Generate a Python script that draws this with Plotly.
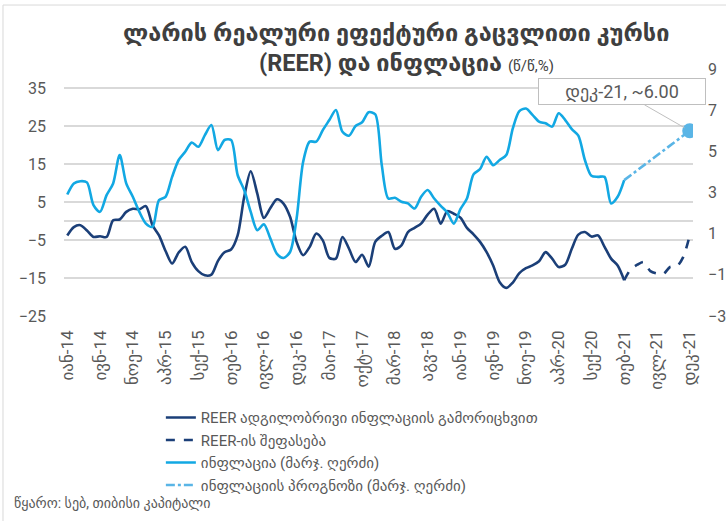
import plotly.graph_objects as go

# ---- categories (monthly, Jan-14 .. Dec-21) ----
month_names = ['იან', 'თებ', 'მარ', 'აპრ', 'მაი', 'ივნ', 'ივლ', 'აგვ', 'სექ', 'ოქტ', 'ნოე', 'დეკ']
years = ['14', '15', '16', '17', '18', '19', '20', '21']
categories = [f"{m}-{y}" for y in years for m in month_names]
tick_labels = categories[::5]

# ---- REER excluding domestic inflation (left axis), Jan-14 .. Feb-21 ----
reer = [-3.8, -1.6, -1.1, -2.5, -4.2, -4.0, -4.2, 0.2, 0.4, 2.4, 3.2, 3.1,
        3.9, -1.1, -3.8, -7.9, -11.2, -8.3, -6.8, -10.8, -13.2, -14.3, -14.1, -10.5,
        -8.2, -7.5, -3.8, 6.3, 13.1, 7.2, 0.8, 3.4, 5.7, 4.6, 1.1, -5.5,
        -9.0, -6.8, -3.3, -5.1, -9.7, -9.9, -4.2, -7.3, -10.8, -8.9, -12.0, -5.5,
        -3.9, -2.9, -7.3, -6.4, -2.9, -1.8, -0.7, 1.7, 3.2, -0.7, 2.6, 1.9,
        0.9, -1.8, -3.5, -5.5, -8.2, -11.7, -16.1, -17.6, -16.2, -13.7, -12.4, -11.7,
        -10.6, -8.2, -9.9, -12.1, -11.5, -7.3, -3.6, -2.9, -4.1, -3.8, -6.8, -9.9,
        -11.7, -15.6]

# ---- REER estimate (left axis), Feb-21 .. Dec-21 ----
reer_est = [-15.6, -12.7, -11.5, -10.8, -13.2, -13.8, -13.9, -12.1, -12.0, -9.5, -3.8]

# ---- Inflation y/y (right axis), Jan-14 .. Feb-21 ----
inflation = [2.90, 3.44, 3.55, 3.49, 2.39, 2.06, 2.87, 3.44, 4.82, 3.44, 2.79, 2.06,
             1.49, 1.33, 2.63, 2.79, 3.76, 4.58, 4.98, 5.43, 5.22, 5.79, 6.28, 5.06,
             5.55, 5.55, 3.85, 3.12, 2.06, 1.17, 1.46, 0.76, 0.02, -0.18, 0.11, 1.74,
             4.49, 5.47, 5.47, 6.03, 6.52, 7.01, 5.95, 5.76, 6.23, 6.41, 6.90, 6.80,
             4.33, 2.71, 2.74, 2.55, 2.47, 2.22, 2.79, 3.12, 2.71, 2.35, 2.03, 1.49,
             2.19, 2.71, 3.88, 4.14, 4.74, 4.33, 4.58, 4.82, 6.12, 6.95, 7.08, 6.77,
             6.44, 6.36, 6.20, 6.85, 6.52, 6.08, 5.76, 4.58, 3.81, 3.76, 3.76, 2.47,
             2.79, 3.60]

# ---- Inflation forecast (right axis): Feb-21 and Dec-21 ----
infl_fc_months = ['თებ-21', 'დეკ-21']
infl_fc = [3.60, 6.00]

n_act = len(reer)
x_act = categories[:n_act]
x_est = categories[n_act - 1:]

DARK = '#1B3F78'
LIGHT = '#12A8E3'
FC = '#5AB5E6'
GRAY = '#595959'
TITLE = '#3F3F3F'
FONT = 'Roboto, DejaVu Sans, sans-serif'

fig = go.Figure()
fig.add_trace(go.Scatter(x=x_act, y=reer, mode='lines', name='REER ადგილობრივი ინფლაციის გამორიცხვით',
                         line=dict(color=DARK, width=2.6, shape='spline', smoothing=0.8)))
fig.add_trace(go.Scatter(x=x_est, y=reer_est, mode='lines', name='REER-ის შეფასება',
                         line=dict(color=DARK, width=2.6, dash='dash', shape='spline', smoothing=0.8)))
fig.add_trace(go.Scatter(x=x_act, y=inflation, mode='lines', name='ინფლაცია (მარჯ. ღერძი)', yaxis='y2',
                         line=dict(color=LIGHT, width=2.6, shape='spline', smoothing=0.8)))
fig.add_trace(go.Scatter(x=infl_fc_months, y=infl_fc, mode='lines', name='ინფლაციის პროგნოზი (მარჯ. ღერძი)',
                         yaxis='y2', line=dict(color=FC, width=2.6, dash='dashdot')))
fig.add_trace(go.Scatter(x=[infl_fc_months[-1]], y=[infl_fc[-1]], mode='markers', yaxis='y2',
                         showlegend=False, marker=dict(color=FC, size=15), hoverinfo='skip'))

fig.add_annotation(x=infl_fc_months[-1], y=infl_fc[-1], yref='y2',
                   text=f"{infl_fc_months[-1]}, ~{infl_fc[-1]:.2f}",
                   showarrow=True, arrowhead=0, arrowwidth=1, arrowcolor='#BFBFBF',
                   ax=-68, ay=-39, standoff=6,
                   bordercolor='#BFBFBF', borderwidth=1, bgcolor='white', borderpad=2,
                   width=162, font=dict(family=FONT, size=18, color=GRAY))

# title (two lines)
fig.add_annotation(xref='paper', yref='paper', x=0.528, y=(316 - 33) / 247, xanchor='center', yanchor='middle',
                   text='<b>ლარის რეალური ეფექტური გაცვლითი კურსი</b>', showarrow=False,
                   font=dict(family=FONT, size=23.5, color=TITLE))
fig.add_annotation(xref='paper', yref='paper', x=0.545, y=(316 - 63) / 247, xanchor='center', yanchor='middle',
                   text='<b>(REER) და ინფლაცია</b> <span style="font-size:15px">(წ/წ,%)</span>',
                   showarrow=False, font=dict(family=FONT, size=23.5, color=TITLE))

fig.add_annotation(xref='paper', yref='paper', x=-0.083, y=-0.757, xanchor='left', yanchor='middle',
                   text='წყარო: სებ, თიბისი კაპიტალი', showarrow=False,
                   font=dict(family=FONT, size=14, color=GRAY))

# frame (top and left edges)
fig.add_shape(type='line', xref='paper', yref='paper', x0=-0.097, x1=1.06, y0=1.259, y1=1.259,
              line=dict(color='#D9D9D9', width=1))
fig.add_shape(type='line', xref='paper', yref='paper', x0=-0.097, x1=-0.097, y0=1.259, y1=-0.83,
              line=dict(color='#D9D9D9', width=1))

fig.update_layout(
    width=726, height=522,
    margin=dict(l=64, r=33, t=69, b=206, autoexpand=False),
    paper_bgcolor='white', plot_bgcolor='white',
    font=dict(family=FONT, color=GRAY),
    xaxis=dict(type='category', categoryorder='array', categoryarray=categories,
               range=[-0.5, len(categories) - 0.5], automargin=False,
               tickmode='array', tickvals=tick_labels, ticktext=tick_labels,
               tickangle=-90, ticks='', ticklabelstandoff=10,
               tickfont=dict(family=FONT, size=17, color=GRAY),
               showgrid=False, showline=False, zeroline=False),
    yaxis=dict(range=[-25, 40], tickvals=[-25, -15, -5, 5, 15, 25, 35], automargin=False,
               showgrid=True, gridcolor='#D9D9D9', gridwidth=1.5,
               zeroline=True, zerolinecolor='#D9D9D9', zerolinewidth=1.5,
               showline=False, ticks='', ticklabelstandoff=17,
               tickfont=dict(family=FONT, size=16, color=GRAY)),
    yaxis2=dict(range=[-3, 9], tickvals=[-3, -1, 1, 3, 5, 7, 9], overlaying='y', side='right',
                automargin=False,
                showgrid=False, zeroline=False, showline=False, ticks='', ticklabelstandoff=14,
                tickfont=dict(family=FONT, size=16, color=GRAY)),
    legend=dict(x=0.154, y=-0.345, xanchor='left', yanchor='top', traceorder='normal',
                font=dict(family=FONT, size=15, color=GRAY), bgcolor='rgba(0,0,0,0)',
                tracegroupgap=0),
    showlegend=True,
)

fig.write_html('out.html', config={'displayModeBar': False},
               post_script="document.body.style.margin='0';document.body.style.overflow='hidden';")
